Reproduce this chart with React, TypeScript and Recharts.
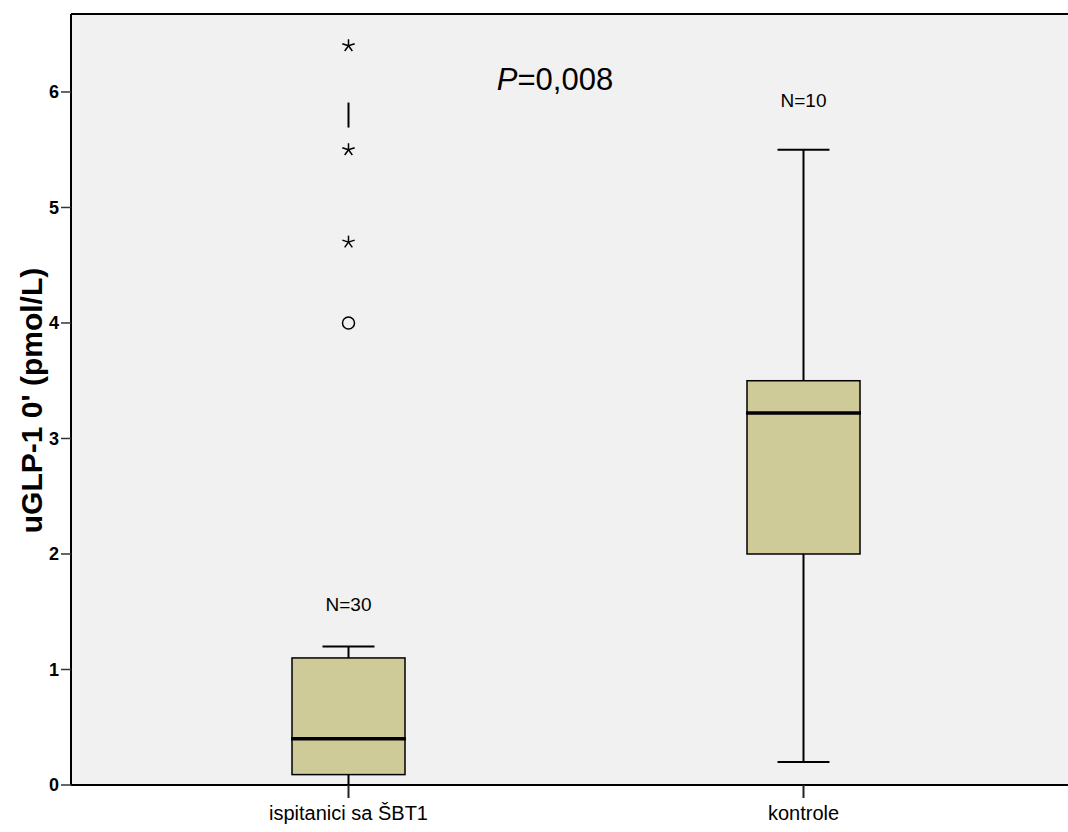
import {
  Bar,
  CartesianGrid,
  ComposedChart,
  ReferenceDot,
  ReferenceLine,
  Scatter,
  XAxis,
  YAxis,
} from 'recharts'

const categories = ['ispitanici sa ŠBT1', 'kontrole']
const whiskerLow = [0, 0.2]
const whiskerHigh = [1.2, 5.5]
const q1 = [0.09, 2.0]
const median = [0.4, 3.22]
const q3 = [1.1, 3.5]
const counts = [30, 10]
const countLabelAt = [1.56, 5.93]

// extreme values (*), outliers (o) and the short bar seen above the middle star
const starOutliers = [[6.4, 5.5, 4.7], []]
const circleOutliers = [[4.0], []]
const barMarks = [[5.8], []]

const yTicks = [0, 1, 2, 3, 4, 5, 6]
const yMax = 6.675

const FONT = 'Arial, "Liberation Sans", sans-serif'
const BOX_FILL = '#CECB99'
const PLOT_BG = '#F0F1F0'

const chartData = categories.map((name, i) => {
  const row: Record<string, unknown> = {
    name,
    whisker: [whiskerLow[i], whiskerHigh[i]],
    q1: q1[i],
    median: median[i],
    q3: q3[i],
  }
  starOutliers[i].forEach((v, j) => (row[`star${j}`] = v))
  circleOutliers[i].forEach((v, j) => (row[`circle${j}`] = v))
  barMarks[i].forEach((v, j) => (row[`mark${j}`] = v))
  return row
})

const starKeys = ['star0', 'star1', 'star2']

function BoxShape(props: any) {
  const { x, y, width, height, payload } = props
  const [lo, hi] = payload.whisker as number[]
  const k = Math.abs(height) / (hi - lo)
  const top = Math.min(y, y + height)
  const toY = (v: number) => top + (hi - v) * k
  const cx = x + width / 2
  const cap = width * 0.23
  return (
    <g>
      <line x1={cx} x2={cx} y1={toY(hi)} y2={toY(payload.q3)} stroke="#000" strokeWidth={2} />
      <line x1={cx} x2={cx} y1={toY(payload.q1)} y2={toY(lo)} stroke="#000" strokeWidth={2} />
      <line x1={cx - cap} x2={cx + cap} y1={toY(hi)} y2={toY(hi)} stroke="#000" strokeWidth={2} />
      <line x1={cx - cap} x2={cx + cap} y1={toY(lo)} y2={toY(lo)} stroke="#000" strokeWidth={2} />
      <rect
        x={x}
        y={toY(payload.q3)}
        width={width}
        height={toY(payload.q1) - toY(payload.q3)}
        fill={BOX_FILL}
        stroke="#000"
        strokeWidth={1.5}
      />
      <line x1={x - 1} x2={x + width + 1} y1={toY(payload.median)} y2={toY(payload.median)} stroke="#000" strokeWidth={3.5} />
    </g>
  )
}

function StarShape({ cx, cy }: any) {
  if (cx == null || cy == null) return null
  const r = 6.5
  const arms = [0, 1, 2, 3, 4].map((i) => {
    const a = (-90 + i * 72) * (Math.PI / 180)
    return <line key={i} x1={cx} y1={cy} x2={cx + r * Math.cos(a)} y2={cy + r * Math.sin(a)} stroke="#000" strokeWidth={1.5} />
  })
  return <g>{arms}</g>
}

function CircleShape({ cx, cy }: any) {
  if (cx == null || cy == null) return null
  return <circle cx={cx} cy={cy} r={6} fill="none" stroke="#000" strokeWidth={1.5} />
}

function BarMarkShape({ cx, cy }: any) {
  if (cx == null || cy == null) return null
  return <line x1={cx} x2={cx} y1={cy - 12.5} y2={cy + 12.5} stroke="#000" strokeWidth={2} />
}

function YLabel({ viewBox }: any) {
  const cy = viewBox.y + viewBox.height / 2 + 1
  const lx = 31
  return (
    <text
      x={lx}
      y={cy}
      transform={`rotate(-90, ${lx}, ${cy})`}
      textAnchor="middle"
      dominantBaseline="central"
      fontFamily={FONT}
      fontWeight="bold"
      fontSize={30}
      fill="#000"
    >
      uGLP-1 0' (pmol/L)
    </text>
  )
}

export default function App() {
  return (
    <div style={{ position: 'relative', width: 1068, height: 832, fontFamily: FONT }}>
      <style>{'body{margin:0;overflow:hidden}'}</style>
      <ComposedChart
        width={1068}
        height={832}
        data={chartData}
        margin={{ top: 14, right: 0, left: 0, bottom: 0 }}
      >
        <CartesianGrid fill={PLOT_BG} horizontal={false} vertical={false} />
        <XAxis
          dataKey="name"
          padding={{ left: 50, right: 37 }}
          height={47}
          axisLine={{ stroke: '#000', strokeWidth: 2 }}
          tickLine={{ stroke: '#222', strokeWidth: 2 }}
          tickSize={13}
          tick={{ fill: '#000', fontSize: 20, fontFamily: FONT, dy: 6 }}
        />
        <YAxis
          type="number"
          domain={[0, yMax]}
          ticks={yTicks}
          width={71}
          axisLine={{ stroke: '#000', strokeWidth: 2 }}
          tickLine={{ stroke: '#333', strokeWidth: 1.5 }}
          tickSize={10}
          tick={{ fill: '#000', fontSize: 18, fontFamily: FONT, fontWeight: 600 }}
          label={{ content: <YLabel /> }}
        />
        <ReferenceLine y={yMax} stroke="#000" strokeWidth={2} />
        <Bar dataKey="whisker" barSize={113} shape={<BoxShape />} isAnimationActive={false} />
        {starKeys.map((k) => (
          <Scatter key={k} dataKey={k} shape={<StarShape />} isAnimationActive={false} />
        ))}
        <Scatter dataKey="circle0" shape={<CircleShape />} isAnimationActive={false} />
        <Scatter dataKey="mark0" shape={<BarMarkShape />} isAnimationActive={false} />
        {categories.map((c, i) => (
          <ReferenceDot
            key={c}
            x={c}
            y={countLabelAt[i]}
            r={0}
            shape={(p: any) => (
              <text x={p.cx} y={p.cy} textAnchor="middle" dominantBaseline="central" fontFamily={FONT} fontSize={19} fill="#000">
                N={counts[i]}
              </text>
            )}
          />
        ))}
      </ComposedChart>
      <div
        style={{
          position: 'absolute',
          left: 555,
          top: 80,
          transform: 'translate(-50%, -50%)',
          fontSize: 31,
          fontFamily: FONT,
          whiteSpace: 'nowrap',
        }}
      >
        <i>P</i>=0,008
      </div>
    </div>
  )
}
